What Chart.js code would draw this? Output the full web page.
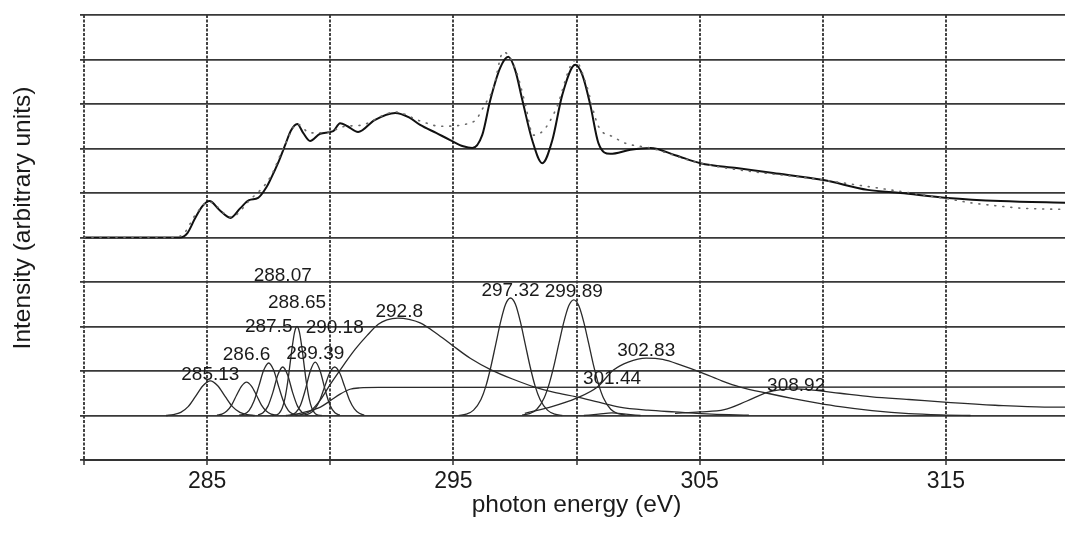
<!DOCTYPE html>
<html>
<head>
<meta charset="utf-8">
<title>C 1s NEXAFS peak fit</title>
<script src="https://cdn.jsdelivr.net/npm/chart.js@4.4.1/dist/chart.umd.min.js"></script>
<style>
  html, body { margin: 0; padding: 0; overflow: hidden; background: #ffffff; }
  canvas { display: block; }
</style>
</head>
<body>
<canvas id="nexafs" width="1075" height="533"></canvas>
<script>
// ---- spectrum (offset above the fitted components) ----
const measuredE = [280, 283.7, 284.1, 284.51, 285.08, 285.97, 286.75, 287.56, 288.17, 288.66, 289.18, 290.0, 290.61, 291.21, 292.64, 293.65, 294.47, 295.81, 296.29, 296.62, 297.03, 297.51, 297.92, 298.24, 298.65, 299.14, 299.95, 300.36, 300.89, 301.5, 301.98, 303.0, 305.03, 310.03, 315.07, 316.0, 317.1, 318.03, 319.05, 320];
const measuredI = [5.0, 5.0, 5.12, 5.5, 5.8, 5.46, 5.85, 6.35, 7.1, 7.55, 7.35, 7.38, 7.5, 7.52, 7.82, 7.62, 7.5, 7.6, 8.0, 8.35, 9.17, 8.8, 8.0, 7.3, 7.4, 7.85, 8.98, 8.5, 7.5, 7.26, 7.12, 7.01, 6.67, 6.29, 5.87, 5.78, 5.71, 5.66, 5.64, 5.63];

const fitE = [280, 283.9, 284.2, 284.5, 284.8, 285.1, 285.5, 285.95, 286.35, 286.7, 287.07, 287.43, 287.56, 287.9, 288.17, 288.4, 288.66, 288.9, 289.18, 289.59, 290.12, 290.4, 290.7, 291.13, 291.8, 292.64, 293.2, 293.65, 294.3, 294.87, 295.4, 295.77, 296.17, 296.5, 296.9, 297.23, 297.51, 297.8, 298.2, 298.61, 299.02, 299.42, 299.95, 300.24, 300.56, 300.89, 301.37, 302.19, 303.0, 304.01, 305.03, 306.5, 307.99, 310.03, 311.82, 313.16, 315.07, 317.22, 320];
const fitI = [5.0, 5.0, 5.1, 5.42, 5.7, 5.82, 5.62, 5.44, 5.66, 5.84, 5.89, 6.15, 6.29, 6.7, 7.08, 7.4, 7.55, 7.35, 7.17, 7.33, 7.39, 7.57, 7.5, 7.37, 7.64, 7.8, 7.7, 7.53, 7.35, 7.19, 7.05, 7.01, 7.3, 8.09, 8.81, 9.06, 8.76, 8.09, 7.19, 6.67, 7.19, 8.2, 8.88, 8.65, 7.98, 7.12, 6.88, 6.97, 7.01, 6.85, 6.67, 6.56, 6.45, 6.29, 6.07, 6.0, 5.89, 5.82, 5.78];

// ---- fitted components: [energy, intensity] ----
const p285_13 = [[283.33,1.0],[283.63,1.02],[283.93,1.07],[284.23,1.2],[284.53,1.43],[284.83,1.67],[285.13,1.78],[285.43,1.67],[285.73,1.43],[286.03,1.2],[286.33,1.07],[286.63,1.02],[286.93,1.0]];
const p286_6  = [[285.4,1.01],[285.6,1.03],[285.8,1.1],[286.0,1.24],[286.2,1.46],[286.4,1.66],[286.6,1.75],[286.8,1.66],[287.0,1.46],[287.2,1.24],[287.4,1.1],[287.6,1.03],[287.8,1.01]];
const p287_5  = [[286.3,1.01],[286.5,1.03],[286.7,1.11],[286.9,1.32],[287.1,1.66],[287.3,2.02],[287.5,2.18],[287.7,2.02],[287.9,1.66],[288.1,1.32],[288.3,1.11],[288.5,1.03],[288.7,1.01]];
const p288_07 = [[287.07,1.01],[287.27,1.06],[287.47,1.21],[287.67,1.52],[287.87,1.91],[288.07,2.09],[288.27,1.91],[288.47,1.52],[288.67,1.21],[288.87,1.06],[289.07,1.01]];
const p288_65 = [[287.65,1.0],[287.85,1.02],[288.05,1.17],[288.15,1.36],[288.25,1.67],[288.35,2.08],[288.45,2.52],[288.55,2.87],[288.65,3.0],[288.75,2.87],[288.85,2.52],[288.95,2.08],[289.05,1.67],[289.15,1.36],[289.25,1.17],[289.45,1.02],[289.65,1.0]];
const p289_39 = [[288.39,1.01],[288.59,1.06],[288.79,1.23],[288.99,1.58],[289.19,2.0],[289.39,2.2],[289.59,2.0],[289.79,1.58],[289.99,1.23],[290.19,1.06],[290.39,1.01]];
const p290_18 = [[288.98,1.01],[289.18,1.05],[289.38,1.15],[289.58,1.35],[289.78,1.66],[289.98,1.96],[290.18,2.09],[290.38,1.96],[290.58,1.66],[290.78,1.35],[290.98,1.15],[291.18,1.05],[291.38,1.01]];
const edgeStep = [[288.2,1.0],[288.6,1.03],[289.0,1.08],[289.6,1.19],[290.0,1.33],[290.4,1.48],[290.8,1.59],[291.2,1.62],[292.0,1.63],[320,1.64]];
const p292_8  = [[288.6,1.0],[288.9,1.03],[289.2,1.1],[289.6,1.35],[290.0,1.7],[290.5,2.1],[291.0,2.48],[291.5,2.8],[291.95,3.05],[292.3,3.15],[292.75,3.19],[293.2,3.16],[293.65,3.08],[294.3,2.85],[294.95,2.58],[295.7,2.28],[296.55,2.02],[297.4,1.82],[298.3,1.64],[299.1,1.52],[300.0,1.42],[300.9,1.3],[301.75,1.19],[302.9,1.12],[304.0,1.08],[305.5,1.03],[307.0,1.01]];
const p297_32 = [[295.22,1.0],[295.52,1.03],[295.82,1.12],[296.12,1.36],[296.32,1.66],[296.52,2.09],[296.72,2.6],[296.92,3.11],[297.12,3.5],[297.32,3.64],[297.52,3.5],[297.72,3.11],[297.92,2.6],[298.12,2.09],[298.32,1.66],[298.52,1.36],[298.82,1.12],[299.12,1.03],[299.42,1.0]];
const p299_89 = [[297.79,1.01],[298.09,1.04],[298.39,1.14],[298.69,1.4],[298.89,1.71],[299.09,2.13],[299.29,2.63],[299.49,3.11],[299.69,3.47],[299.89,3.6],[300.09,3.47],[300.29,3.11],[300.49,2.63],[300.69,2.13],[300.89,1.71],[301.09,1.4],[301.39,1.14],[301.69,1.04],[301.99,1.01]];
const p301_44 = [[300.3,1.0],[300.9,1.03],[301.44,1.06],[302.0,1.03],[302.6,1.0]];
const p302_83 = [[297.9,1.05],[299.0,1.2],[300.0,1.39],[300.85,1.64],[301.5,2.02],[302.1,2.2],[302.83,2.29],[303.5,2.26],[304.3,2.12],[305.1,1.96],[305.9,1.78],[306.65,1.64],[307.75,1.5],[308.8,1.38],[309.8,1.28],[310.7,1.2],[312.0,1.11],[313.5,1.04],[315.0,1.01],[316.0,1.0]];
const p308_92 = [[304.0,1.05],[305.0,1.08],[306.0,1.13],[306.9,1.32],[307.75,1.52],[308.3,1.58],[308.92,1.6],[309.6,1.57],[310.7,1.5],[312.0,1.42],[313.5,1.36],[315.2,1.29],[317.0,1.23],[319.0,1.19],[320.0,1.19]];

// ---- peak annotations ----
const peakEnergies = [285.13, 286.6, 287.5, 288.07, 288.65, 289.39, 290.18, 292.8, 297.32, 299.89, 301.44, 302.83, 308.92];
const peakLabelLevel = [1.91, 2.36, 2.99, 4.13, 3.53, 2.38, 2.97, 3.33, 3.8, 3.78, 1.82, 2.45, 1.66];

const components = [p285_13, p286_6, p287_5, p288_07, p288_65, p289_39, p290_18, edgeStep, p292_8, p297_32, p299_89, p301_44, p302_83, p308_92];

const FONT = '"Liberation Sans", Arial, Helvetica, sans-serif';
const INK = '#1a1a1a';

const toPoints = (xs, ys) => xs.map((x, i) => ({ x: x, y: ys[i] }));

const datasets = components.map(c => ({
  data: c.map(p => ({ x: p[0], y: p[1] })),
  borderColor: '#2a2a2a',
  borderWidth: 1.3,
  pointRadius: 0,
  cubicInterpolationMode: 'monotone',
  fill: false
}));

datasets.push({
  data: toPoints(measuredE, measuredI),
  borderColor: '#6a6a6a',
  borderWidth: 1.6,
  borderDash: [1, 7],
  borderCapStyle: 'round',
  pointRadius: 0,
  cubicInterpolationMode: 'monotone',
  fill: false
});
datasets.push({
  data: toPoints(fitE, fitI),
  borderColor: '#111111',
  borderWidth: 2,
  pointRadius: 0,
  cubicInterpolationMode: 'monotone',
  fill: false
});

// vertical axis title
const yTitlePlugin = {
  id: 'yTitle',
  afterDraw(chart) {
    const ctx = chart.ctx;
    ctx.save();
    ctx.translate(23, 218);
    ctx.rotate(-Math.PI / 2);
    ctx.font = '24.5px ' + FONT;
    ctx.fillStyle = INK;
    ctx.textAlign = 'center';
    ctx.textBaseline = 'middle';
    ctx.fillText('Intensity (arbitrary units)', 0, 0);
    ctx.restore();
  }
};

// peak energy labels placed over each component
const peakLabelPlugin = {
  id: 'peakLabels',
  afterDatasetsDraw(chart) {
    const { ctx, scales } = chart;
    ctx.save();
    ctx.font = '19px ' + FONT;
    ctx.fillStyle = INK;
    ctx.textAlign = 'center';
    ctx.textBaseline = 'middle';
    peakEnergies.forEach((e, i) => {
      ctx.fillText(String(e), scales.x.getPixelForValue(e), scales.y.getPixelForValue(peakLabelLevel[i]));
    });
    ctx.restore();
  }
};

new Chart(document.getElementById('nexafs'), {
  type: 'line',
  data: { datasets: datasets },
  options: {
    responsive: false,
    animation: false,
    events: [],
    layout: { padding: { left: 80, right: 6, top: 15, bottom: 0 } },
    plugins: { legend: { display: false }, tooltip: { enabled: false } },
    scales: {
      x: {
        type: 'linear',
        min: 280,
        max: 320,
        ticks: {
          stepSize: 5,
          autoSkip: false,
          maxRotation: 0,
          padding: 5,
          color: INK,
          font: { family: FONT, size: 23, lineHeight: 1 },
          callback: v => ((v - 285) % 10 === 0 ? String(v) : '')
        },
        grid: {
          color: '#444444',
          lineWidth: 2,
          tickLength: 5,
          tickColor: '#333333',
          tickWidth: 1.5
        },
        border: { display: true, color: '#333333', width: 2, dash: [3, 1.5] },
        title: {
          display: true,
          text: 'photon energy (eV)',
          color: INK,
          font: { family: FONT, size: 24.5, lineHeight: 1 },
          padding: { top: -5, bottom: 15.5 }
        }
      },
      y: {
        type: 'linear',
        min: 0,
        max: 10,
        ticks: { stepSize: 1, display: false },
        grid: { color: '#383838', lineWidth: 1.8, tickLength: 4, tickColor: '#383838' },
        border: { display: false }
      }
    }
  },
  plugins: [peakLabelPlugin, yTitlePlugin]
});
</script>
</body>
</html>
